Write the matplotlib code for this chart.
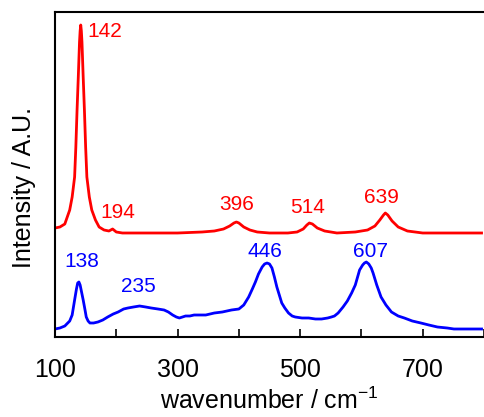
import matplotlib
matplotlib.use("Agg")
import matplotlib.pyplot as plt

plt.rcParams['font.family'] = ['Liberation Sans', 'DejaVu Sans']
plt.rcParams['mathtext.fontset'] = 'custom'
plt.rcParams['mathtext.rm'] = 'Liberation Sans'

# Red spectrum (wavenumber, intensity a.u.)
red_x = [100, 108, 116, 124, 128, 132, 134, 136, 138, 140, 141, 142, 143, 144, 146, 148, 150, 152,
         156, 160, 166, 172, 180, 188, 194, 200, 210, 230, 260, 300, 340, 360, 375, 385, 392, 396,
         400, 408, 418, 430, 450, 480, 495, 505, 511, 515, 520, 528, 540, 560, 590, 610, 622, 630,
         636, 639, 643, 650, 660, 675, 700, 740, 796]
red_y = [109, 110, 113, 127, 140, 160, 190, 227, 260, 295, 306, 312, 306, 295, 260, 227, 190, 160,
         140, 127, 117, 110, 107, 106, 108, 105, 104, 104, 104, 104, 105, 106, 108, 111, 114, 115,
         114, 110, 107, 105, 104, 104, 105, 108, 112, 114, 113, 109, 106, 104, 105, 107, 111, 117,
         122, 124, 122, 116, 110, 106, 104, 104, 104]

# Blue spectrum
blue_x = [100, 108, 116, 124, 128, 132, 135, 137, 139, 141, 143, 146, 149, 151, 154, 157, 163, 170,
          178, 186, 195, 203, 212, 219, 228, 238, 248, 257, 268, 278, 285, 292, 298, 303, 308, 313,
          320, 327, 340, 346, 360, 373, 388, 400, 408, 416, 422, 427, 432, 438, 442, 446, 450, 454,
          458, 462, 466, 470, 475, 481, 487, 492, 503, 514, 525, 535, 545, 551, 556, 562, 570, 577,
          584, 590, 597, 602, 605, 608, 612, 616, 619, 625, 632, 640, 649, 660, 670, 683, 697, 710,
          724, 740, 751, 770, 796]
blue_y = [8, 9, 11, 16, 22, 37, 48, 54, 55, 52, 46, 37, 27, 20, 16, 14, 14, 15,
          17, 20, 23, 25, 28, 29, 30, 31, 30, 29, 28, 27, 25, 22, 20, 19, 20, 21,
          21, 22, 22, 22, 24, 25, 27, 28, 32, 40, 48, 55, 63, 70, 73, 74, 73, 69,
          60, 50, 42, 34, 29, 24, 21, 20, 19, 19, 18, 18, 19, 20, 21, 24, 30, 36,
          44, 52, 67, 72, 74, 75, 73, 69, 64, 52, 40, 32, 25, 21, 19, 16, 14, 12,
          10, 9, 8, 8, 8]

red_labels = ["142", "194", "396", "514", "639"]
red_label_x = [153, 203, 396, 512, 632]
red_label_y = [300, 119, 127, 124, 134]

blue_labels = ["138", "235", "446", "607"]
blue_label_x = [143, 236, 442, 614]
blue_label_y = [70, 45, 80, 80]

major_ticks = [100, 300, 500, 700]
minor_ticks = [200, 400, 600, 800]

fig = plt.figure(figsize=(4.84, 4.17), dpi=100)
ax = fig.add_axes([55 / 484, 80 / 417, 1 - 55 / 484, 325 / 417])

ax.plot(red_x, red_y, color='#ff0000', lw=2.0)
ax.plot(blue_x, blue_y, color='#0000ff', lw=2.0)

for t, x, y in zip(red_labels, red_label_x, red_label_y):
    ax.text(x, y, t, color='#ff0000', fontsize=15,
            ha='left' if t == "142" else 'center', va='baseline')
for t, x, y in zip(blue_labels, blue_label_x, blue_label_y):
    ax.text(x, y, t, color='#0000ff', fontsize=15, ha='center', va='baseline')

ax.set_xlim(100, 100 + (484 - 55) / 0.6167)
ax.set_ylim(0, 325)
ax.set_xticks(major_ticks)
ax.set_xticks(minor_ticks, minor=True)
ax.tick_params(axis='x', which='both', direction='in', length=6, width=1.2, labelsize=18, pad=15)
ax.set_yticks([])
ax.spines['right'].set_visible(False)
for s in ['left', 'top', 'bottom']:
    ax.spines[s].set_linewidth(1.5)

ax.set_xlabel(r'wavenumber / cm$^{\mathregular{-1}}$', fontsize=18, labelpad=4)
ax.set_ylabel('Intensity / A.U.', fontsize=18)
ax.yaxis.set_label_coords(-19 / 429, 0.46)

fig.savefig('out.png', dpi=100)
